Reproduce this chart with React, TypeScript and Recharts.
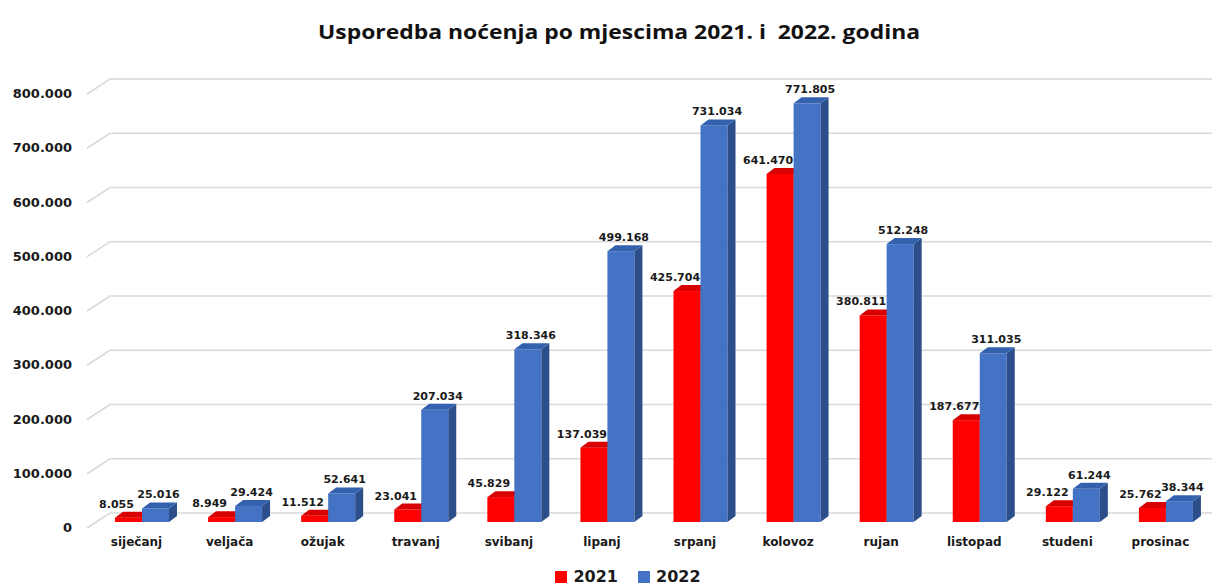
import React from 'react';
import { BarChart, Bar, XAxis, YAxis, CartesianGrid, LabelList, Legend } from 'recharts';

const months = ['siječanj', 'veljača', 'ožujak', 'travanj', 'svibanj', 'lipanj', 'srpanj', 'kolovoz', 'rujan', 'listopad', 'studeni', 'prosinac'];
const values2021 = [8055, 8949, 11512, 23041, 45829, 137039, 425704, 641470, 380811, 187677, 29122, 25762];
const values2022 = [25016, 29424, 52641, 207034, 318346, 499168, 731034, 771805, 512248, 311035, 61244, 38344];
const yTicks = [0, 100000, 200000, 300000, 400000, 500000, 600000, 700000, 800000];
const seriesNames = ['2021', '2022'];
const title = 'Usporedba noćenja po mjescima 2021. i  2022. godina';

const data = months.map((m, i) => ({ month: m, y2021: values2021[i], y2022: values2022[i] }));

const fmt = (v: number) => String(v).replace(/\B(?=(\d{3})+(?!\d))/g, '.');

const COLORS = {
  red: { front: '#FF0000', side: '#B50000', top: '#D80000' },
  blue: { front: '#4472C4', side: '#2C4E8A', top: '#3461AE' },
};

const DX = 8;
const DY = 6;

const make3D = (c: { front: string; side: string; top: string }) => (props: any) => {
  const { x, y, width, height } = props;
  if (width == null || height == null) return null;
  const w = width;
  const h = height;
  return (
    <g>
      <rect x={x} y={y} width={w} height={h} fill={c.front} />
      <polygon
        points={`${x + w},${y} ${x + w + DX},${y - DY} ${x + w + DX},${y + h - DY} ${x + w},${y + h}`}
        fill={c.side}
      />
      <polygon
        points={`${x},${y} ${x + DX},${y - DY} ${x + w + DX},${y - DY} ${x + w},${y}`}
        fill={c.top}
      />
    </g>
  );
};

const RedShape = make3D(COLORS.red);
const BlueShape = make3D(COLORS.blue);

const labelFont = { fontFamily: 'DejaVu Sans', fontWeight: 700, fontSize: 11, fill: '#1a1a1a' };

const makeLabel = (shift: number) => (props: any) => {
  const { x, y, width, value } = props;
  return (
    <text x={x + width / 2 + shift} y={y - DY - 4} textAnchor="middle" style={labelFont as any}>
      {fmt(value)}
    </text>
  );
};

const RedLabel = makeLabel(-12);
const BlueLabel = makeLabel(3);

const YTick = (props: any) => {
  const { x, y, payload } = props;
  return (
    <text x={x} y={y + 10} textAnchor="end" style={{ fontFamily: 'DejaVu Sans', fontWeight: 700, fontSize: 13, fill: '#1a1a1a' }}>
      {fmt(payload.value)}
    </text>
  );
};

const XTick = (props: any) => {
  const { x, y, payload } = props;
  return (
    <text x={x - 5} y={y + 16} textAnchor="middle" style={{ fontFamily: 'DejaVu Sans', fontWeight: 700, fontSize: 12, fill: '#1a1a1a' }}>
      {payload.value}
    </text>
  );
};

const GridLine = (props: any) => {
  const { x1, x2, y1 } = props;
  const by = y1 - 9;
  return (
    <path
      d={`M${x1 - 8},${y1 + 6} L${x1 + 15},${by} L${x2},${by}`}
      fill="none"
      stroke="#D9D9D9"
      strokeWidth={1.5}
    />
  );
};

const LegendContent = () => (
  <div style={{ display: 'flex', justifyContent: 'center', alignItems: 'center', gap: 20, fontFamily: 'DejaVu Sans', fontWeight: 700, fontSize: 16, color: '#1a1a1a', paddingLeft: 38 }}>
    {seriesNames.map((n, i) => (
      <div key={n} style={{ display: 'flex', alignItems: 'center', gap: 6 }}>
        <span style={{ display: 'inline-block', width: 12, height: 12, background: i === 0 ? COLORS.red.front : COLORS.blue.front }} />
        <span>{n}</span>
      </div>
    ))}
  </div>
);

export default function App() {
  return (
    <div style={{ position: 'absolute', left: 0, top: 0, width: 1218, height: 586, background: '#fff' }}>
      <svg width={1218} height={60} style={{ position: 'absolute', left: 0, top: 0 }}>
        <text
          x={619}
          y={39}
          textAnchor="middle"
          textLength={602}
          lengthAdjust="spacingAndGlyphs"
          xmlSpace="preserve"
          style={{ fontFamily: 'Open Sans', fontWeight: 700, fontSize: 19, fill: '#111', whiteSpace: 'pre' }}
        >
          {title}
        </text>
      </svg>
      <BarChart
        width={1218}
        height={586}
        data={data}
        margin={{ top: 88, right: 6, bottom: 34, left: 0 }}
        barGap={0}
        barSize={27}
        style={{ position: 'absolute', left: 0, top: 0 }}
      >
        <CartesianGrid vertical={false} horizontal={<GridLine />} stroke="#D9D9D9" />
        <YAxis
          width={95}
          domain={[0, 800000]}
          ticks={yTicks}
          axisLine={false}
          tickLine={false}
          tickMargin={17}
          tick={<YTick />}
          interval={0}
        />
        <XAxis dataKey="month" height={30} axisLine={false} tickLine={false} tick={<XTick />} interval={0} />
        <Legend
          verticalAlign="middle"
          align="center"
          content={<LegendContent />}
          wrapperStyle={{ position: 'absolute', top: 567, left: 0, width: 1218, height: 20 }}
        />
        <Bar dataKey="y2021" name={seriesNames[0]} fill={COLORS.red.front} shape={RedShape} isAnimationActive={false}>
          <LabelList dataKey="y2021" content={RedLabel} />
        </Bar>
        <Bar dataKey="y2022" name={seriesNames[1]} fill={COLORS.blue.front} shape={BlueShape} isAnimationActive={false}>
          <LabelList dataKey="y2022" content={BlueLabel} />
        </Bar>
      </BarChart>
    </div>
  );
}
